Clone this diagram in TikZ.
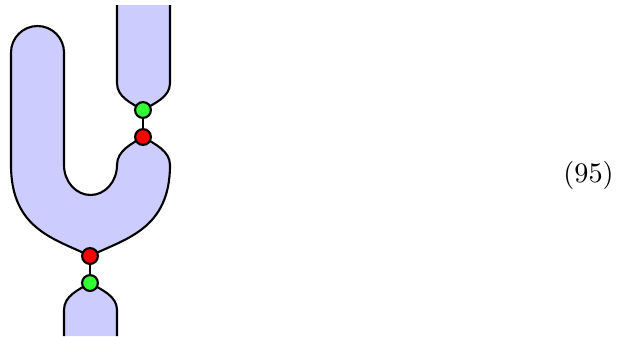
\documentclass[tikz,border=0pt]{standalone}
\definecolor{dotgreen}{rgb}{0.2,1,0.2}
\begin{document}
\begin{tikzpicture}[x=0.379pt,y=-0.379pt,
  sheet/.style={fill=blue!20,draw=none},
  edge/.style={draw=black,line width=0.8pt},
  dot/.style={circle,draw=black,line width=0.8pt,inner sep=0pt,minimum size=6pt}]
\useasboundingbox (0,0) rectangle (619,336);
\coordinate (g1) at (143,110);
\coordinate (r1) at (143,137);
\coordinate (r2) at (90,256);
\coordinate (g2) at (90,283);
\coordinate (t1) at (117,5); \coordinate (t2) at (170,5);
\coordinate (b1) at (64,336); \coordinate (b2) at (117,336);
% top tube
\fill[sheet] (t1) -- (117,83) .. controls (117,97) and (131,103) .. (g1) .. controls (155,103) and (170,97) .. (170,83) -- (t2) -- cycle;
\draw[edge] (t1) -- (117,83) .. controls (117,97) and (131,103) .. (g1) .. controls (155,103) and (170,97) .. (170,83) -- (t2);
% U shape
\path[sheet,edge] (r2) .. controls (56,239) and (11,230) .. (11,165) -- (11,52.5)
  .. controls (11,37.9) and (22.9,26) .. (37.5,26) .. controls (52.1,26) and (64,37.9) .. (64,52.5)
  -- (64,165) .. controls (64,181.6) and (75.9,195) .. (90.5,195) .. controls (105.1,195) and (117,181.6) .. (117,165)
  .. controls (117,151) and (131,144) .. (r1) .. controls (155,144) and (170,151) .. (170,165)
  .. controls (170,230) and (124,239) .. (r2) -- cycle;
% bottom tube
\fill[sheet] (b1) -- (64,310) .. controls (64,296) and (78,290) .. (g2) .. controls (102,290) and (117,296) .. (117,310) -- (b2) -- cycle;
\draw[edge] (b1) -- (64,310) .. controls (64,296) and (78,290) .. (g2) .. controls (102,290) and (117,296) .. (117,310) -- (b2);
% dots and links
\node[dot,fill=dotgreen] (G1) at (g1) {};
\node[dot,fill=red] (R1) at (r1) {};
\node[dot,fill=red] (R2) at (r2) {};
\node[dot,fill=dotgreen] (G2) at (g2) {};
\draw[edge] (G1) -- (R1);
\draw[edge] (R2) -- (G2);
\node[inner sep=0pt,scale=1.07] (eq) at (588.5,175) {(95)};
\end{tikzpicture}
\end{document}
